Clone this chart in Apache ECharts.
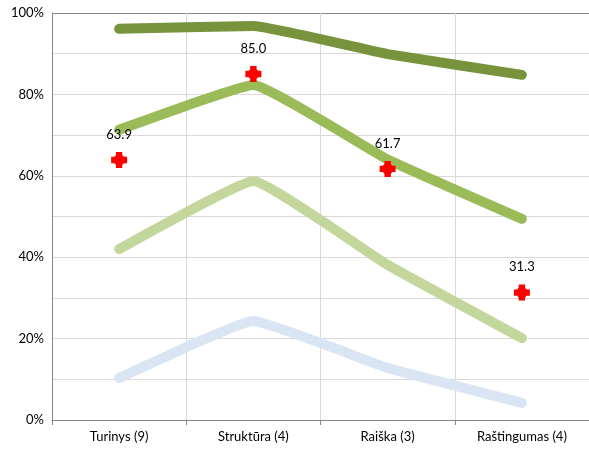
<!DOCTYPE html>
<html><head><meta charset="utf-8">
<script src="https://cdn.jsdelivr.net/npm/echarts@6/dist/echarts.min.js"></script>
<style>html,body{margin:0;padding:0;background:#fff}#c{width:589px;height:450px}</style>
</head><body><div id="c"></div>
<script>
var categories = ['Turinys (9)', 'Struktūra (4)', 'Raiška (3)', 'Raštingumas (4)'];
var seriesDark = [96.1, 96.8, 89.9, 84.8];
var seriesMid = [71.3, 82.3, 64.0, 49.4];
var seriesLight = [42.0, 58.7, 38.1, 20.1];
var seriesBlue = [10.3, 24.3, 12.8, 4.2];
var markerValues = [63.9, 85.0, 61.7, 31.3];
var yTicks = [0, 20, 40, 60, 80, 100];

var font = 'Lato, "Open Sans", sans-serif';
var chart = echarts.init(document.getElementById('c'));
function lineSeries(data, color) {
  return {
    type: 'line', data: data, showSymbol: false, smooth: 0.1, silent: true,
    lineStyle: {color: color, width: 10, cap: 'round', join: 'round'}
  };
}
var gridColors = [];
for (var i = 0; i < 10; i++) gridColors.push('#D9D9D9');
gridColors.push('#868686');
chart.setOption({
  animation: false,
  grid: {left: 52, top: 13, bottom: 30, width: 540},
  xAxis: {
    type: 'category', data: categories, boundaryGap: true,
    axisLine: {lineStyle: {color: '#868686', width: 1}},
    axisTick: {show: true, length: 5, lineStyle: {color: '#868686'}},
    splitLine: {show: true, lineStyle: {color: '#D9D9D9', width: 1}},
    axisLabel: {color: '#000', fontFamily: font, fontSize: 13, margin: 10}
  },
  yAxis: {
    type: 'value', min: 0, max: 100, interval: 10,
    axisLine: {show: true, lineStyle: {color: '#868686', width: 1}},
    axisTick: {show: false},
    splitLine: {show: true, lineStyle: {color: gridColors, width: 1}},
    axisLabel: {
      color: '#000', fontFamily: font, fontSize: 13, margin: 8,
      formatter: function (v) { return yTicks.indexOf(v) >= 0 ? v + '%' : ''; }
    }
  },
  series: [
    lineSeries(seriesBlue, '#DAE5F3'),
    lineSeries(seriesLight, '#C3D69B'),
    lineSeries(seriesMid, '#9BBB59'),
    lineSeries(seriesDark, '#77933C'),
    {
      type: 'line', data: markerValues, lineStyle: {opacity: 0}, silent: true,
      symbol: 'path://M3,0 H7 V2 L8,3 H10 V7 H8 L7,8 V10 H3 V8 L2,7 H0 V3 H2 L3,2 Z',
      symbolSize: 16, showSymbol: true,
      itemStyle: {color: '#FF0000'},
      label: {show: true, position: 'top', distance: 11, color: '#000', fontFamily: font, fontSize: 13,
        formatter: function (p) { return p.value.toFixed(1); }}
    }
  ]
});
</script></body></html>
